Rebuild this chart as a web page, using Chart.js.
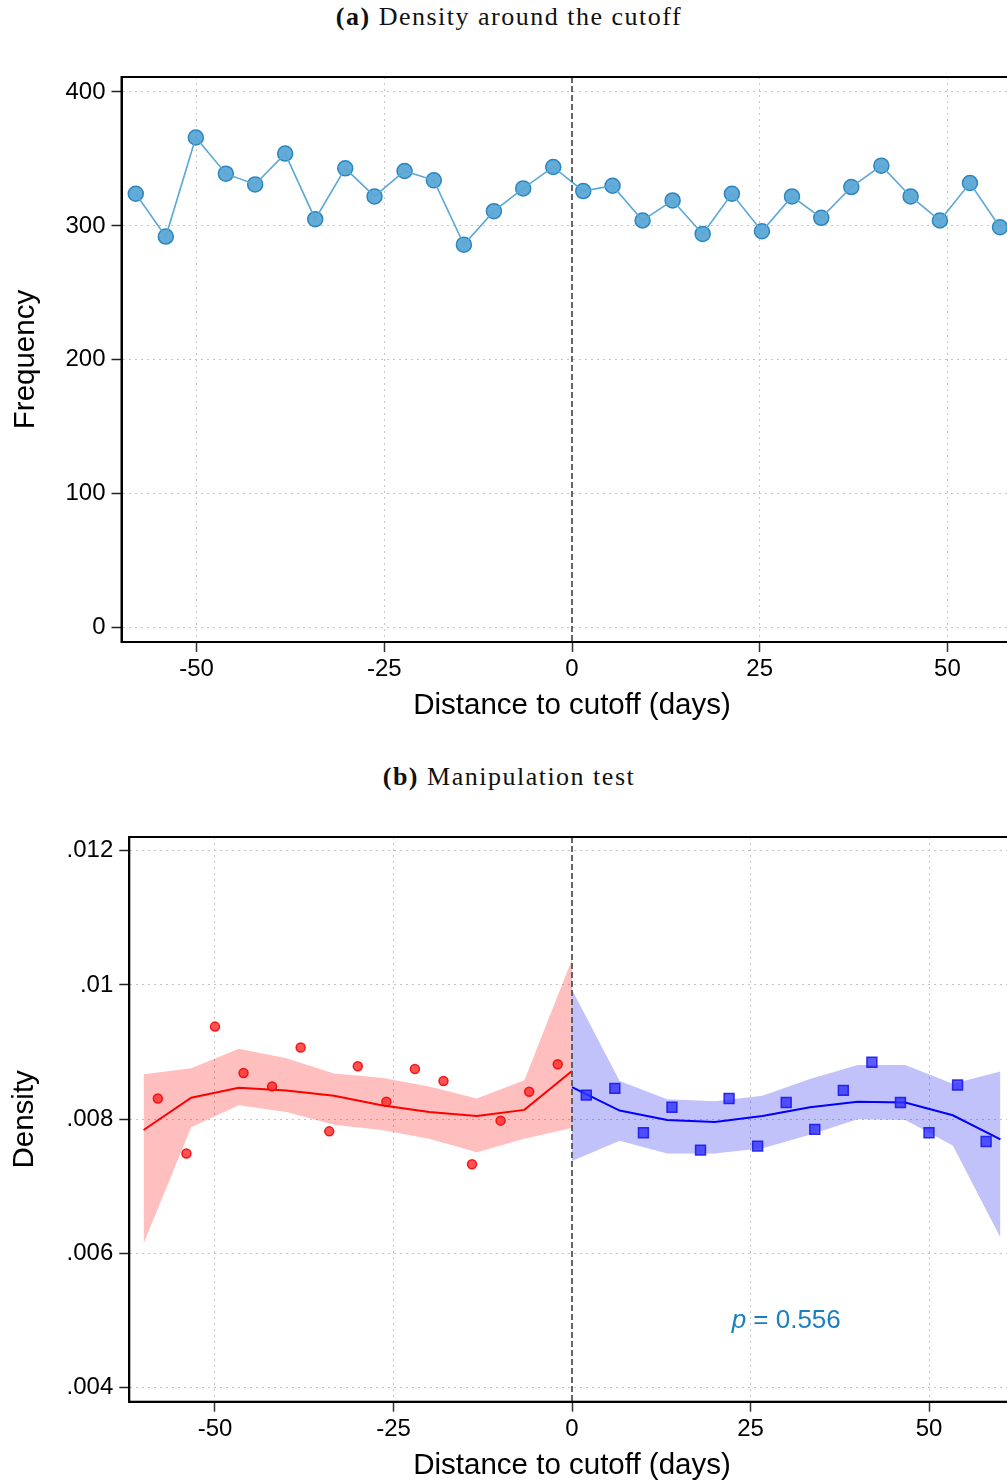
<!DOCTYPE html>
<html>
<head>
<meta charset="utf-8">
<script src="https://cdn.jsdelivr.net/npm/chart.js@4.4.0/dist/chart.umd.min.js"></script>
<style>
  html, body { margin: 0; padding: 0; overflow: hidden; background: #fff; width: 1007px; height: 1481px; }
  .panel-title { position: absolute; left: 0; width: 1018px; text-align: center; font-family: "Liberation Serif", serif; font-size: 26px; letter-spacing: 1.5px; color: #111; line-height: 30px; }
  canvas { position: absolute; left: 0; }
</style>
</head>
<body>
<div class="panel-title" style="top: 2px;"><b>(a)</b> Density around the cutoff</div>
<canvas id="freq" width="1040" height="730" style="top: 0;"></canvas>
<div class="panel-title" style="top: 762px;"><b>(b)</b> Manipulation test</div>
<canvas id="density" width="1040" height="745" style="top: 740px;"></canvas>
<script>
// panel (a): counts per bin
const binDays = [-58.1, -54.1, -50.1, -46.1, -42.2, -38.2, -34.2, -30.2, -26.3, -22.3, -18.4, -14.4, -10.4, -6.5, -2.5,
                 1.5, 5.4, 9.4, 13.4, 17.4, 21.3, 25.3, 29.3, 33.2, 37.2, 41.2, 45.1, 49.0, 53.0, 57.0];
const binCounts = [324, 292, 366, 339, 331, 354, 305, 343, 322, 341, 334, 286, 311, 328, 344,
                   326, 330, 304, 319, 294, 324, 296, 322, 306, 329, 345, 322, 304, 332, 299];
const freqTicks = [0, 100, 200, 300, 400];
const dayTicks = [-50, -25, 0, 25, 50];

// panel (b): binned densities and local polynomial fit with CI
const leftBins = [-58, -54, -50, -46, -42, -38, -34, -30, -26, -22, -18, -14, -10, -6, -2];
const leftDens = [0.00831, 0.00749, 0.00938, 0.00869, 0.00849, 0.00907, 0.00782, 0.00879, 0.00826, 0.00875,
                  0.00857, 0.00733, 0.00798, 0.00841, 0.00882];
const rightBins = [2, 6, 10, 14, 18, 22, 26, 30, 34, 38, 42, 46, 50, 54, 58];
const rightDens = [0.00836, 0.00846, 0.00780, 0.00818, 0.00754, 0.00831, 0.00760, 0.00825, 0.00785, 0.00843,
                   0.00885, 0.00825, 0.00780, 0.00851, 0.00767];
const leftGrid = [-60, -53.33, -46.67, -40, -33.33, -26.67, -20, -13.33, -6.67, 0];
const leftFit = [0.00784, 0.00832, 0.00847, 0.00843, 0.00835, 0.00821, 0.00811, 0.00805, 0.00814, 0.00872];
const leftHi = [0.00867, 0.00876, 0.00905, 0.00891, 0.00868, 0.00862, 0.00849, 0.00831, 0.00858, 0.01038];
const leftLo = [0.00615, 0.00788, 0.00821, 0.00811, 0.00792, 0.00784, 0.00771, 0.00751, 0.00771, 0.00787];
const rightGrid = [0, 6.67, 13.33, 20, 26.67, 33.33, 40, 46.67, 53.33, 60];
const rightFit = [0.00848, 0.00813, 0.00799, 0.00796, 0.00805, 0.00818, 0.00826, 0.00825, 0.00806, 0.00770];
const rightHi = [0.00993, 0.00857, 0.00830, 0.00827, 0.00835, 0.00860, 0.00881, 0.00881, 0.00853, 0.00871];
const rightLo = [0.00738, 0.00768, 0.00749, 0.00749, 0.00757, 0.00777, 0.00800, 0.00799, 0.00761, 0.00624];
const densTicks = [0.004, 0.006, 0.008, 0.01, 0.012];
const densTickLabels = [".004", ".006", ".008", ".01", ".012"];
const pValue = "0.556";

const SANS = "'Liberation Sans', Arial, sans-serif";
const GRID = "#c4c4c4";

const pts = (xs, ys) => xs.map((x, i) => ({ x: x, y: ys[i] }));

// frame around the plot region + dashed line at the cutoff
const framePlugin = {
    id: "frame",
    afterDatasetsDraw(chart) {
        const { ctx, chartArea: a, scales } = chart;
        const x0 = scales.x.getPixelForValue(0);
        ctx.save();
        ctx.strokeStyle = "#555";
        ctx.lineWidth = 1.8;
        ctx.setLineDash([6, 3]);
        ctx.beginPath();
        ctx.moveTo(x0, a.top);
        ctx.lineTo(x0, a.bottom);
        ctx.stroke();
        ctx.setLineDash([]);
        ctx.strokeStyle = "#000";
        ctx.lineWidth = 2;
        ctx.strokeRect(a.left, a.top, a.right - a.left, a.bottom - a.top);
        ctx.restore();
    },
};

const xAxis = (min, max, height, titlePad) => ({
    type: "linear",
    min: min,
    max: max,
    afterBuildTicks: (s) => { s.ticks = dayTicks.map((v) => ({ value: v })); },
    afterFit: (s) => { s.height = height; },
    grid: {
        color: (c) => (c.tick && c.tick.value === 0 ? "transparent" : GRID),
        lineWidth: 1,
        tickLength: 10,
        tickColor: "#333",
        tickWidth: 1.5,
        tickBorderDash: [],
    },
    border: { display: true, color: "#000", width: 2, dash: [2, 4] },
    ticks: { color: "#000", font: { family: SANS, size: 24 }, padding: 3, maxRotation: 0, autoSkip: false },
    title: {
        display: true,
        text: "Distance to cutoff (days)",
        color: "#000",
        font: { family: SANS, size: 29.5 },
        padding: { top: 0, bottom: titlePad },
    },
});

const yAxis = (min, max, width, values, fmt, title, titlePad) => ({
    type: "linear",
    min: min,
    max: max,
    afterBuildTicks: (s) => { s.ticks = values.map((v) => ({ value: v })); },
    afterFit: (s) => { s.width = width; },
    grid: {
        color: GRID,
        lineWidth: 1,
        tickLength: 10,
        tickColor: "#222",
        tickWidth: 1.5,
        tickBorderDash: [],
    },
    border: { display: true, color: "#000", width: 2, dash: [2, 4] },
    ticks: { color: "#000", font: { family: SANS, size: 24 }, padding: 6, callback: fmt },
    title: {
        display: true,
        text: title,
        color: "#000",
        font: { family: SANS, size: 29.5 },
        padding: { top: titlePad, bottom: 0 },
    },
});

new Chart(document.getElementById("freq"), {
    type: "line",
    data: {
        datasets: [
            {
                data: pts(binDays, binCounts),
                borderColor: "#5aa8d6",
                borderWidth: 1.6,
                pointRadius: 0,
                order: 0,
            },
            {
                data: pts(binDays, binCounts),
                showLine: false,
                pointRadius: 7.5,
                pointBackgroundColor: "rgba(40,140,200,0.72)",
                pointBorderColor: "#2a86c2",
                pointBorderWidth: 1.5,
                order: 1,
            },
        ],
    },
    options: {
        responsive: false,
        animation: false,
        events: [],
        layout: { padding: { left: 0, top: 77, right: 17.5, bottom: 0 } },
        plugins: { legend: { display: false }, tooltip: { enabled: false } },
        scales: {
            x: xAxis(-60, 60, 88, 6),
            y: yAxis(-10.8, 411.2, 121.5, freqTicks, (v) => String(v), "Frequency", 8),
        },
    },
    plugins: [framePlugin],
});

// p-value of the manipulation test, placed in data units
const pLabel = {
    id: "pLabel",
    afterDatasetsDraw(chart) {
        const { ctx, scales } = chart;
        const cx = scales.x.getPixelForValue(30);
        const by = scales.y.getPixelForValue(0.00489);
        ctx.save();
        ctx.fillStyle = "#1a7fbf";
        ctx.textBaseline = "alphabetic";
        ctx.font = "italic 26px " + SANS;
        const wp = ctx.measureText("p").width;
        ctx.font = "26px " + SANS;
        const rest = " = " + pValue;
        const wr = ctx.measureText(rest).width;
        const x0 = cx - (wp + wr) / 2;
        ctx.font = "italic 26px " + SANS;
        ctx.fillText("p", x0, by);
        ctx.font = "26px " + SANS;
        ctx.fillText(rest, x0 + wp, by);
        ctx.restore();
    },
};

new Chart(document.getElementById("density"), {
    type: "line",
    data: {
        datasets: [
            { data: pts(leftGrid, leftHi), borderWidth: 0, pointRadius: 0, backgroundColor: "rgba(255,0,0,0.25)", fill: "+1", order: 5 },
            { data: pts(leftGrid, leftLo), borderWidth: 0, pointRadius: 0, fill: false, order: 5 },
            { data: pts(rightGrid, rightHi), borderWidth: 0, pointRadius: 0, backgroundColor: "rgba(10,10,240,0.25)", fill: "+1", order: 5 },
            { data: pts(rightGrid, rightLo), borderWidth: 0, pointRadius: 0, fill: false, order: 5 },
            { data: pts(leftGrid, leftFit), borderColor: "#ff0000", borderWidth: 2, pointRadius: 0, order: 2 },
            { data: pts(rightGrid, rightFit), borderColor: "#0000ff", borderWidth: 2, pointRadius: 0, order: 2 },
            {
                data: pts(leftBins, leftDens),
                showLine: false,
                pointRadius: 4.5,
                pointBackgroundColor: "rgba(255,40,40,0.8)",
                pointBorderColor: "rgba(240,0,0,0.85)",
                pointBorderWidth: 1.5,
                order: 0,
            },
            {
                data: pts(rightBins, rightDens),
                showLine: false,
                pointStyle: "rect",
                pointRadius: 7,
                pointBackgroundColor: "rgba(50,50,255,0.8)",
                pointBorderColor: "rgba(20,20,235,0.85)",
                pointBorderWidth: 1.5,
                order: 0,
            },
        ],
    },
    options: {
        responsive: false,
        animation: false,
        events: [],
        layout: { padding: { left: 0, top: 97, right: 25.3, bottom: 0 } },
        plugins: { legend: { display: false }, tooltip: { enabled: false } },
        scales: {
            x: xAxis(-62, 62, 83.3, 1),
            y: yAxis(0.003794, 0.012204, 129.3, densTicks, (v) => densTickLabels[densTicks.indexOf(v)] || "", "Density", 7),
        },
    },
    plugins: [framePlugin, pLabel],
});
</script>
</body>
</html>
